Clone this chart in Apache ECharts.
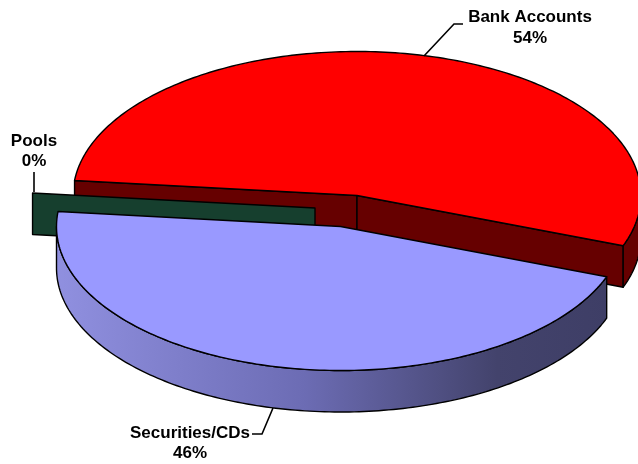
<!DOCTYPE html>
<html><head><meta charset="utf-8">
<style>html,body{margin:0;padding:0;background:#fff}#c{width:638px;height:464px}</style>
<script src="https://cdn.jsdelivr.net/npm/echarts@6/dist/echarts.min.js"></script>
</head><body><div id="c"></div>
<script>
const categories = ['Bank Accounts', 'Securities/CDs', 'Pools'];
const shares = [54, 46, 0];

// layout only
const startAngle = 174, rx = 284, ry = 144, depth = 41.5;
const slices = [
  {cx:357, cy:195.5, top:'#ff0000', wall:'#660000', z:1,
   label:[530,28], leader:[[424,56],[454,24],[463,24]]},
  {cx:340.5, cy:226.5, top:'#9999ff', wall:'grad', z:3,
   label:[190,443.5], leader:[[273,408],[262,434],[252,434]]},
  {cx:315, cy:208, top:'#163f2e', wall:'#163f2e', z:2,
   label:[34,151.5], leader:[[34,172],[34,192]]}
];
const total = shares.reduce((a,b)=>a+b,0);
const chart = echarts.init(document.getElementById('c'), null, {renderer:'canvas'});

function pt(s, deg, dz){
  const r = deg*Math.PI/180;
  return [s.cx + rx*Math.cos(r), s.cy - ry*Math.sin(r) + (dz||0)];
}
function arc(s, a0, a1, dz){
  const out=[]; const n=Math.max(1,Math.ceil(Math.abs(a1-a0)));
  for(let i=0;i<=n;i++) out.push(pt(s,a0+(a1-a0)*i/n,dz));
  return out;
}
function poly(points, fill, z){
  return {type:'polygon', z2:z, shape:{points},
    style:{fill, stroke:'#000', lineWidth:1.4, lineJoin:'round'}};
}
const blueWall = new echarts.graphic.LinearGradient(0,0,1,0,[
  {offset:0,color:'#9090e0'},{offset:0.45,color:'#6c6cb4'},{offset:0.8,color:'#43436c'},{offset:1,color:'#3e3e66'}]);

function renderSlice(params, api){
  const i = api.value(0), share = api.value(1);
  const s = slices[i];
  let before = 0; for(let k=0;k<i;k++) before += shares[k];
  const a0 = startAngle - before/total*360;
  const a1 = a0 - share/total*360;
  const apex = [s.cx, s.cy], kids = [];
  const z = s.z;
  const wallFill = s.wall==='grad' ? blueWall : s.wall;
  const base = p => [p[0], p[1]+depth];
  if(share === 0){
    // a zero share has no top: only its cut face shows
    const o = pt(s,a0);
    kids.push(poly([o, apex, base(apex), base(o)], s.wall, z));
  } else {
    const o0 = pt(s,a0), o1 = pt(s,a1);
    if(s.wall!=='grad'){
      kids.push(poly([o0, apex, base(apex), base(o0)], s.wall, z));
      kids.push(poly([o1, apex, base(apex), base(o1)], s.wall, z));
    }
    // visible outer rim: the front half of the ellipse
    const from = Math.min(a0, 0), to = Math.max(a1, -180);
    if(from > to){
      const upper = arc(s, from, to), lower = arc(s, to, from, depth);
      kids.push(poly(upper.concat(lower), wallFill, z));
    }
    kids.push(poly([apex].concat(arc(s,a0,a1)), s.top, z));
  }
  kids.push({type:'polyline', z2:z+5, shape:{points:s.leader},
    style:{fill:null, stroke:'#000', lineWidth:1.6}});
  kids.push({type:'text', z2:20, style:{
    x:s.label[0], y:s.label[1], text:categories[i]+'\n'+share+'%',
    align:'center', verticalAlign:'middle',
    font:'bold 17px "Liberation Sans", Arial, sans-serif',
    lineHeight:20.5, fill:'#000'}});
  return {type:'group', children:kids};
}

chart.setOption({
  animation:false,
  backgroundColor:'#fff',
  series:[{
    type:'custom', coordinateSystem:'none', silent:true, clip:false,
    renderItem:renderSlice,
    data:shares.map((v,i)=>[i,v])
  }]
});
</script></body></html>
